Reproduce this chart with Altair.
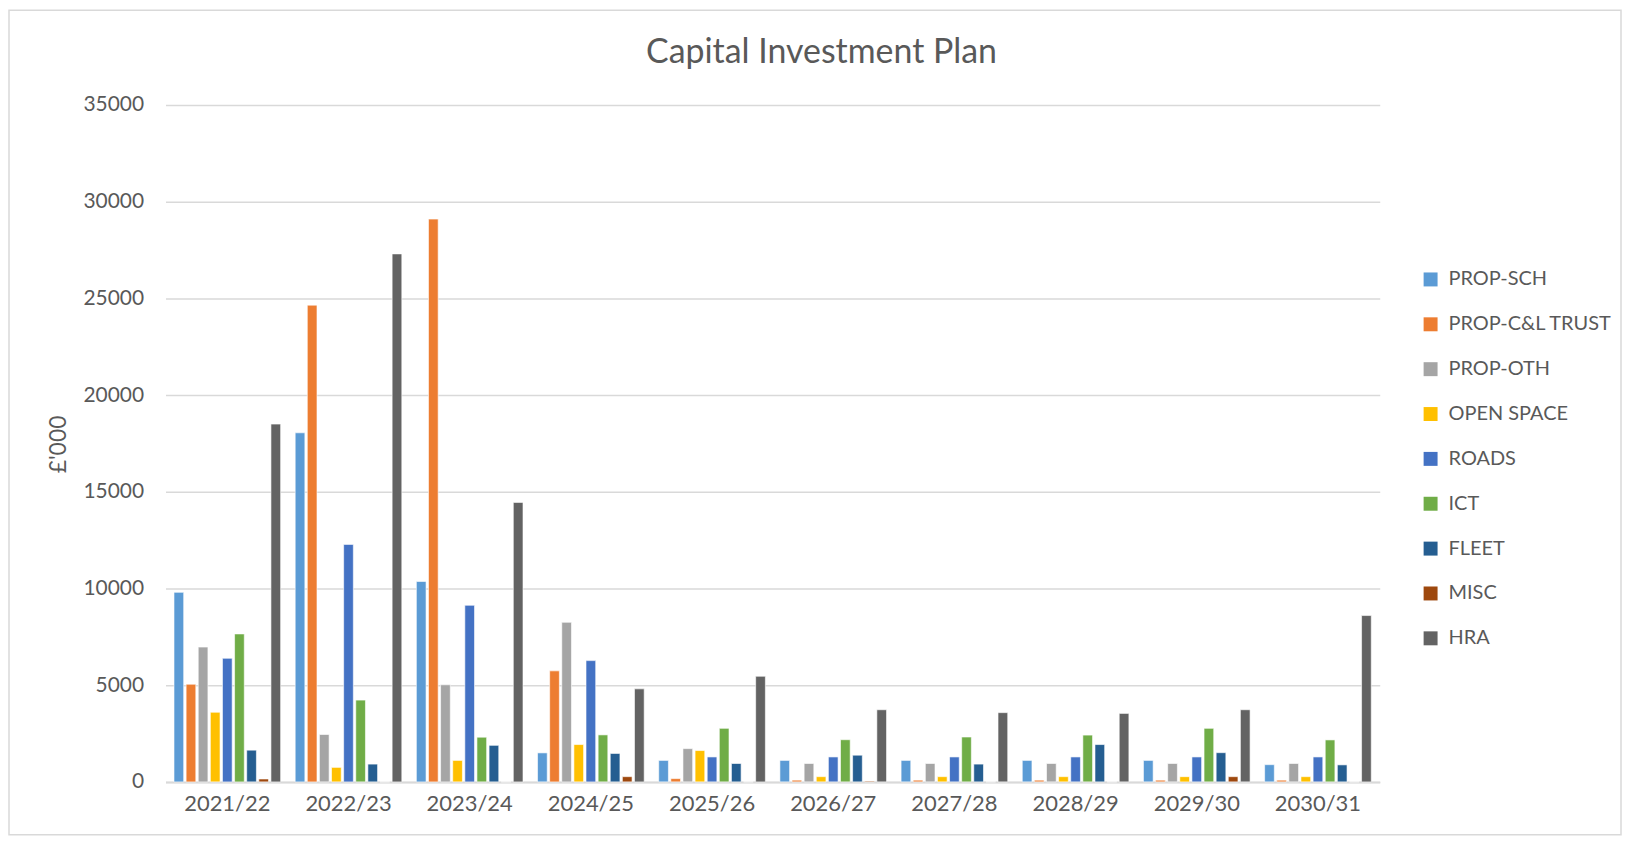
import altair as alt
import pandas as pd

years = ["2021/22", "2022/23", "2023/24", "2024/25", "2025/26",
         "2026/27", "2027/28", "2028/29", "2029/30", "2030/31"]
series = ["PROP-SCH", "PROP-C&L TRUST", "PROP-OTH", "OPEN SPACE", "ROADS",
          "ICT", "FLEET", "MISC", "HRA"]
colors = ["#5B9BD5", "#ED7D31", "#A5A5A5", "#FFC000", "#4472C4",
          "#70AD47", "#255E91", "#9E480E", "#636363"]
title_text = "Capital Investment Plan"

prop_sch = [9800, 18050, 10360, 1500, 1110, 1110, 1110, 1110, 1110, 890]
prop_cl = [5050, 24650, 29100, 5740, 170, 90, 90, 90, 90, 90]
prop_oth = [6970, 2450, 5020, 8250, 1720, 950, 950, 950, 950, 950]
open_space = [3600, 750, 1110, 1930, 1620, 270, 270, 270, 270, 270]
roads = [6390, 12280, 9130, 6270, 1290, 1290, 1290, 1290, 1290, 1290]
ict = [7650, 4230, 2310, 2430, 2770, 2180, 2320, 2420, 2770, 2170]
fleet = [1640, 920, 1890, 1470, 950, 1380, 920, 1930, 1510, 880]
misc = [150, 0, 0, 270, 0, 40, 0, 0, 270, 0]
hra = [18500, 27300, 14450, 4810, 5460, 3730, 3580, 3540, 3730, 8600]

values = [prop_sch, prop_cl, prop_oth, open_space, roads, ict, fleet, misc, hra]
rows = []
for si, (name, vals) in enumerate(zip(series, values)):
    for y, v in zip(years, vals):
        rows.append({"year": y, "series": name, "order": si, "value": v})
df = pd.DataFrame(rows)

FONT = "Lato"
TEXT = "#595959"

bars = alt.Chart(df).mark_bar(stroke="white", strokeWidth=0.6).encode(
    x=alt.X("year:N", sort=years,
            scale=alt.Scale(paddingInner=0.12, paddingOuter=0.07),
            axis=alt.Axis(title=None, labelAngle=0, labelFontSize=22,
                          labelColor=TEXT, labelFont=FONT, labelPadding=12,
                          ticks=False, domainColor="#d9d9d9", domainWidth=2,
                          grid=False)),
    xOffset=alt.XOffset("series:N", sort=series,
                        scale=alt.Scale(paddingInner=0.2, paddingOuter=0)),
    y=alt.Y("value:Q",
            scale=alt.Scale(domain=[0, 35000], nice=False),
            axis=alt.Axis(title="£'000", values=list(range(0, 35001, 5000)),
                          format="d", labelFontSize=21, labelColor=TEXT,
                          labelFont=FONT, labelPadding=22, ticks=False,
                          domain=False, gridColor="#d9d9d9", gridWidth=1.5,
                          titleFontSize=23, titleFont=FONT, titleColor=TEXT,
                          titleFontWeight="normal", titleAngle=-90,
                          titleX=-107, titleY=340, titleBaseline="middle",
                          titleAlign="center")),
    color=alt.Color("series:N", sort=series,
                    scale=alt.Scale(domain=series, range=colors),
                    legend=alt.Legend(title=None, orient="none",
                                      legendX=1259, legendY=165,
                                      symbolType="square", symbolSize=196,
                                      symbolStrokeWidth=0,
                                      labelFontSize=20, labelFont=FONT,
                                      labelColor=TEXT, rowPadding=25,
                                      labelOffset=8, labelLimit=300)),
)

frame = alt.Chart(alt.Data(values=[{"a": 1}])).mark_rect(
    fill="transparent", stroke="#d9d9d9", strokeWidth=1.5
).encode(
    x=alt.value(-157), x2=alt.value(1460),
    y=alt.value(-95), y2=alt.value(732)
)

title = alt.Chart(alt.Data(values=[{"t": title_text}])).mark_text(
    font=FONT, fontSize=34, color=TEXT, align="center", baseline="alphabetic"
).encode(
    text="t:N", x=alt.value(658), y=alt.value(-42)
)

chart = alt.layer(frame, title, bars).properties(
    width=1218, height=679,
    padding=0,
).configure_view(stroke=None)

chart.save("out.html", embed_options={"renderer": "svg", "actions": False})
